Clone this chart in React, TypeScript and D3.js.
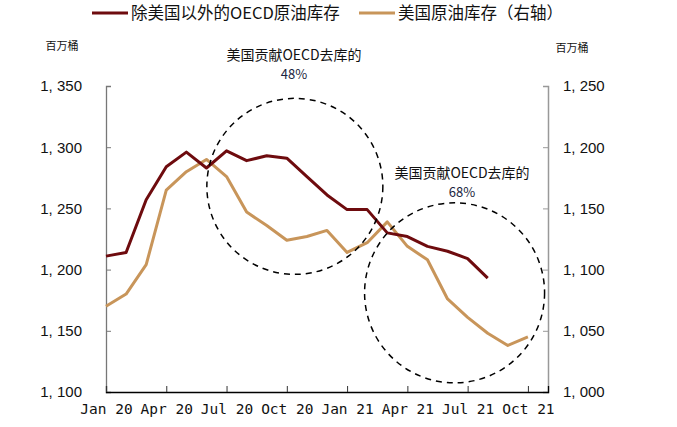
import { useEffect, useRef } from "react";
import * as d3 from "d3";

const WIDTH = 677;
const HEIGHT = 427;

// months since Jan 2020 (0 = Jan 20)
const oecdExUsMonths = d3.range(0, 20);
const oecdExUs = [
  1211, 1214, 1257, 1284, 1296, 1283, 1297, 1289, 1293, 1291, 1276, 1261,
  1249, 1249, 1230, 1227, 1219, 1215, 1209, 1193,
];

const usMonths = d3.range(0, 22);
const usStocks = [
  1070, 1080, 1104, 1165, 1180, 1190, 1176, 1147, 1136, 1124, 1127, 1132,
  1114, 1122, 1139, 1119, 1108, 1076, 1061, 1048, 1038, 1045,
];

const xTickMonths = [0, 3, 6, 9, 12, 15, 18, 21];
const xTickLabels = [
  "Jan 20", "Apr 20", "Jul 20", "Oct 20", "Jan 21", "Apr 21", "Jul 21", "Oct 21",
];
const leftTicks = [1100, 1150, 1200, 1250, 1300, 1350];
const rightTicks = [1000, 1050, 1100, 1150, 1200, 1250];

const seriesNames = ["除美国以外的OECD原油库存", "美国原油库存（右轴）"];
const seriesColors = ["#6E0B0E", "#C8955A"];

// dashed circles, centre in (month, left-axis value)
const circleMonths = [9.4, 17.35];
const circleValues = [1268, 1181];
const circleRadii = [88, 90];
const noteLines = [
  ["美国贡献OECD去库的", "48%"],
  ["美国贡献OECD去库的", "68%"],
];

const CJK = "'Noto Sans CJK SC', 'Noto Sans', sans-serif";
const fmt = (v: number) => d3.format(",")(v).replace(",", ", ");

export default function App() {
  const ref = useRef<SVGSVGElement>(null);

  useEffect(() => {
    document.body.style.margin = "0";
    const svg = d3.select(ref.current);
    svg.selectAll("*").remove();

    const x = d3.scaleLinear().domain([0, 22]).range([106, 548]);
    const yL = d3.scaleLinear().domain([1100, 1350]).range([392, 86]);
    const yR = d3.scaleLinear().domain([1000, 1250]).range([392, 86]);

    // left axis
    const left = svg
      .append("g")
      .attr("transform", `translate(${x(0)},0)`)
      .call(d3.axisLeft(yL).tickValues(leftTicks).tickSize(-5).tickPadding(24).tickFormat((d) => fmt(+d)));
    left.select(".domain").attr("stroke", "#777").attr("stroke-width", 1.3);
    left.selectAll(".tick line").attr("stroke", "#777");
    left
      .selectAll(".tick text")
      .attr("font-family", "'Liberation Sans', Arial, sans-serif")
      .attr("font-size", 15)
      .attr("fill", "#111");

    // right axis
    const right = svg
      .append("g")
      .attr("transform", `translate(${x(22)},0)`)
      .call(d3.axisRight(yR).tickValues(rightTicks).tickSize(-5).tickPadding(15).tickFormat((d) => fmt(+d)));
    right.select(".domain").attr("stroke", "#999").attr("stroke-width", 1.5);
    right.selectAll(".tick line").attr("stroke", "#999");
    right
      .selectAll(".tick text")
      .attr("font-family", "'Liberation Sans', Arial, sans-serif")
      .attr("font-size", 15)
      .attr("fill", "#111");

    // bottom axis
    const bottom = svg
      .append("g")
      .attr("transform", `translate(0,${yL(1100)})`)
      .call(
        d3
          .axisBottom(x)
          .tickValues(xTickMonths)
          .tickSize(-6)
          .tickPadding(12)
          .tickFormat((_, i) => xTickLabels[i])
      );
    bottom.select(".domain").attr("stroke", "#000").attr("stroke-width", 1.3);
    bottom.selectAll(".tick line").attr("stroke", "#333");
    bottom
      .selectAll(".tick text")
      .attr("font-family", "'DejaVu Sans Mono', monospace")
      .attr("font-size", 14.5)
      .attr("fill", "#111");

    // units
    svg.append("text").attr("x", 62).attr("y", 50).attr("text-anchor", "middle")
      .attr("font-family", CJK).attr("font-size", 11).attr("fill", "#111").text("百万桶");
    svg.append("text").attr("x", 572).attr("y", 52).attr("text-anchor", "middle")
      .attr("font-family", CJK).attr("font-size", 11).attr("fill", "#111").text("百万桶");

    // lines
    const lineL = d3.line<number>().x((_, i) => x(oecdExUsMonths[i])).y((d) => yL(d));
    const lineR = d3.line<number>().x((_, i) => x(usMonths[i])).y((d) => yR(d));
    svg.append("path").datum(usStocks).attr("fill", "none")
      .attr("stroke", seriesColors[1]).attr("stroke-width", 3).attr("stroke-linejoin", "round").attr("d", lineR);
    svg.append("path").datum(oecdExUs).attr("fill", "none")
      .attr("stroke", seriesColors[0]).attr("stroke-width", 3).attr("stroke-linejoin", "round").attr("d", lineL);

    // dashed circles + notes
    circleMonths.forEach((m, i) => {
      const cx = x(m);
      const cy = yL(circleValues[i]);
      svg.append("circle").attr("cx", cx).attr("cy", cy).attr("r", circleRadii[i])
        .attr("fill", "none").attr("stroke", "#000").attr("stroke-width", 1.5)
        .attr("stroke-dasharray", "6,5");
    });
    const notePos = [
      [294, 60],
      [462, 178],
    ];
    noteLines.forEach((lines, i) => {
      const t = svg.append("text").attr("text-anchor", "middle")
        .attr("font-family", CJK).attr("font-size", 14).attr("fill", "#111");
      t.append("tspan").attr("x", notePos[i][0]).attr("y", notePos[i][1]).text(lines[0]);
      t.append("tspan").attr("x", notePos[i][0]).attr("y", notePos[i][1] + 19)
        .attr("font-size", 13).attr("fill", "#1a2440").text(lines[1]);
    });

    // legend
    const legendX = [92, 359];
    seriesNames.forEach((name, i) => {
      const g = svg.append("g").attr("transform", `translate(${legendX[i]},13)`);
      g.append("line").attr("x1", 0).attr("x2", 36).attr("y1", 0).attr("y2", 0)
        .attr("stroke", seriesColors[i]).attr("stroke-width", 3);
      g.append("text").attr("x", 39).attr("y", 6).attr("font-family", CJK)
        .attr("font-size", 16.5).attr("fill", "#111").text(name);
    });
  }, []);

  return <svg ref={ref} width={WIDTH} height={HEIGHT} style={{ display: "block", background: "#fff" }} />;
}
